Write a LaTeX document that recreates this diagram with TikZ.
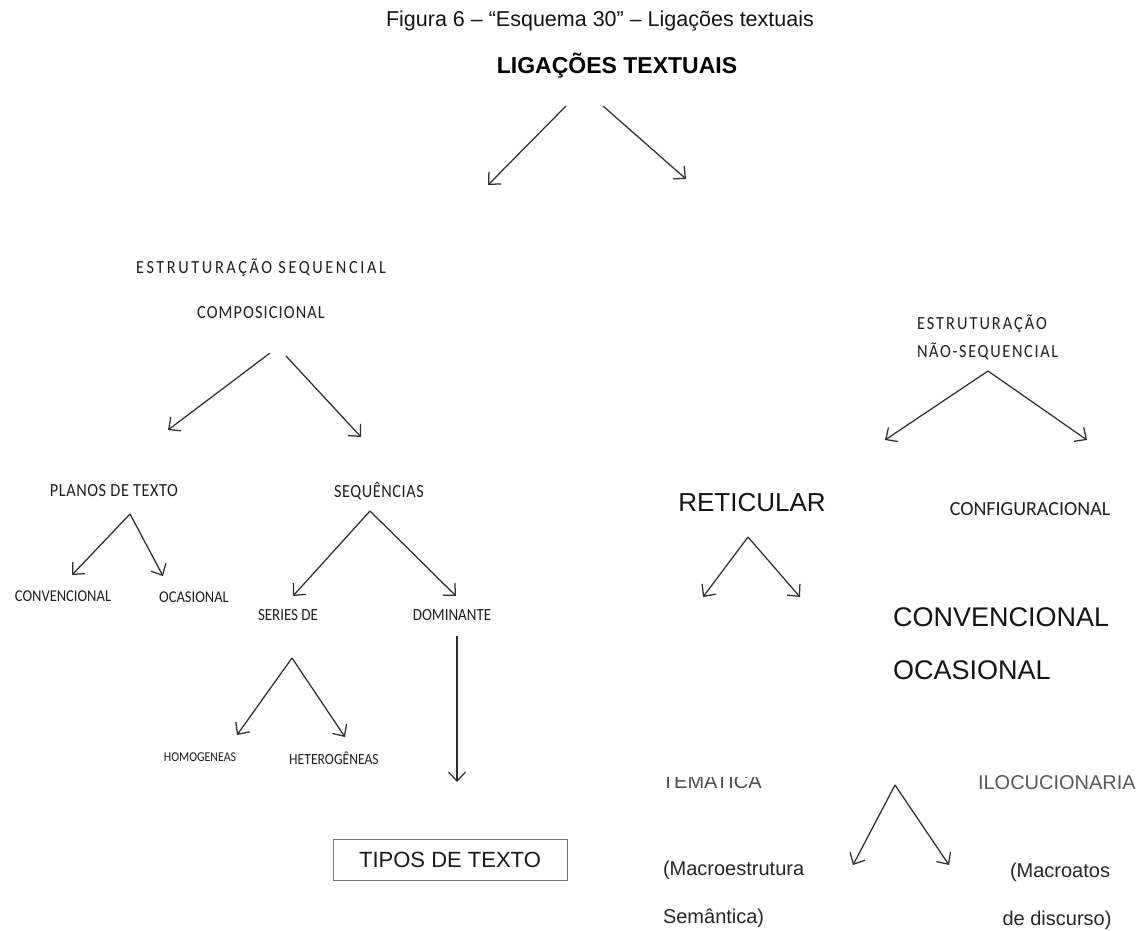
\documentclass[tikz,border=0pt]{standalone}
\usepackage{fontspec}
\setmainfont{Liberation Sans}
\newfontfamily\calfont{Carlito}
\newfontfamily\calnarrow[FakeStretch=0.88]{Carlito}
\usetikzlibrary{arrows.meta}
\begin{document}
\begin{tikzpicture}[x=1pt,y=-1pt,
  every node/.style={inner sep=0pt, outer sep=0pt},
  arr/.style={draw=black!82, line width=1.25pt,
    -{Straight Barb[length=9pt,width=17pt,line width=1.25pt]}},
  ttl/.style={font=\fontsize{21.5}{25}\selectfont, text=black!92},
  head/.style={font=\fontsize{23}{27}\selectfont\bfseries},
  big/.style={font=\fontsize{#1}{#1}\selectfont, text=black!92},
  mid/.style={font=\fontsize{20}{24}\selectfont, text=black!#1},
  cal/.style 2 args={font=\calfont\fontsize{#1}{#1}\selectfont\addfontfeature{LetterSpace=#2}, text=black!88},
  caln/.style 2 args={font=\calnarrow\fontsize{#1}{#1}\selectfont\addfontfeature{LetterSpace=#2}, text=black!88},
  boxed/.style={draw=black!55, line width=0.9pt, minimum width=234pt, minimum height=41pt,
    font=\fontsize{22}{26}\selectfont, text=black!90},
]
\useasboundingbox (0,0) rectangle (1145,930);
\fill[white] (0,0) rectangle (1145,930);

% heading
\node[ttl] (fig) at (600,21) {Figura 6 – “Esquema 30” – Ligações textuais};
\node[head] (lig) at (617,66) {LIGAÇÕES TEXTUAIS};
\coordinate (l1s) at (566,106); \coordinate (l1e) at (488,185);
\coordinate (l2s) at (603,106); \coordinate (l2e) at (686,179);
\draw[arr] (l1s) -- (l1e);
\draw[arr] (l2s) -- (l2e);

% sequential branch
\node[caln={18.5}{14}] (ess) at (261,268) {ESTRUTURAÇÃO SEQUENCIAL};
\node[caln={18.5}{6}] (comp) at (261,313) {COMPOSICIONAL};
\coordinate (c1s) at (270,353); \coordinate (c1e) at (168,430);
\coordinate (c2s) at (286,356); \coordinate (c2e) at (361,437);
\draw[arr] (c1s) -- (c1e);
\draw[arr] (c2s) -- (c2e);

\node[caln={18.5}{3}] (plan) at (114,491) {PLANOS DE TEXTO};
\node[caln={18.5}{3}] (seq) at (379,491) {SEQUÊNCIAS};
\coordinate (pa) at (130,514); \coordinate (pl) at (72,575); \coordinate (pr) at (163,576);
\draw[arr] (pa) -- (pl);
\draw[arr] (pa) -- (pr);
\node[caln={16.5}{0}] (conv) at (63,596) {CONVENCIONAL};
\node[caln={16.5}{0}] (ocas) at (194,597) {OCASIONAL};

\coordinate (sa) at (370,511); \coordinate (sl) at (293,596); \coordinate (sr) at (456,596);
\draw[arr] (sa) -- (sl);
\draw[arr] (sa) -- (sr);
\node[caln={17}{0}] (ser) at (288,615) {SERIES DE};
\node[caln={17}{0}] (dom) at (452,615) {DOMINANTE};

\coordinate (ha) at (292,658); \coordinate (hl) at (237,735); \coordinate (hr) at (345,737);
\draw[arr] (ha) -- (hl);
\draw[arr] (ha) -- (hr);
\node[caln={13.5}{0}] (hom) at (200,757) {HOMOGENEAS};
\node[caln={15.5}{0}] (het) at (334,758) {HETEROGÊNEAS};

\coordinate (ds) at (457,636); \coordinate (de) at (457,782);
\draw[arr] (ds) -- (de);
\node[boxed] (tip) at (450,859.5) {TIPOS DE TEXTO};

% non-sequential branch
\node[caln={18.5}{11}, anchor=west] (ens1) at (917,324) {ESTRUTURAÇÃO};
\node[caln={18.5}{9}, anchor=west] (ens2) at (917,351) {NÃO-SEQUENCIAL};
\coordinate (na) at (988,371); \coordinate (nl) at (885,440); \coordinate (nr) at (1087,440);
\draw[arr] (na) -- (nl);
\draw[arr] (na) -- (nr);

\node[big=26] (ret) at (752,503) {RETICULAR};
\node[cal={20}{0}] (cfg) at (1030,509) {CONFIGURACIONAL};
\coordinate (ra) at (748,537); \coordinate (rl) at (703,597); \coordinate (rr) at (800,597);
\draw[arr] (ra) -- (rl);
\draw[arr] (ra) -- (rr);
\node[big=27, anchor=west] (cv) at (893,617) {CONVENCIONAL};
\node[big=27, anchor=west] (oc) at (893,670) {OCASIONAL};

\begin{scope}
  \clip (650,777) rectangle (790,800);
  \node[mid=70, anchor=west] (tem) at (662,782) {TEMATICA};
\end{scope}
\node[mid=65, anchor=west] (ilo) at (978,783) {ILOCUCIONARIA};
\coordinate (ia) at (895,785); \coordinate (il) at (853,865); \coordinate (ir) at (949,865);
\draw[arr] (ia) -- (il);
\draw[arr] (ia) -- (ir);

\node[mid=85, anchor=west] (me1) at (663,870) {(Macroestrutura};
\node[mid=85, anchor=west] (me2) at (663,918) {Semântica)};
\node[mid=85] (ma1) at (1060,872) {(Macroatos};
\node[mid=85] (ma2) at (1057,920) {de discurso)};
\end{tikzpicture}
\end{document}
